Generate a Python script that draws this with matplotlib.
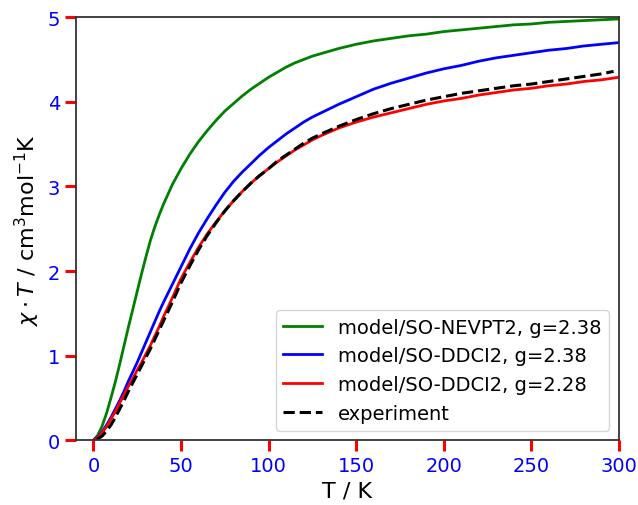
import matplotlib
matplotlib.use("Agg")
import matplotlib.pyplot as plt

T = [0, 2.5, 5, 7.5, 10, 12.5, 15, 17.5, 20, 22.5, 25, 27.5, 30, 32.5, 35, 37.5, 40, 45, 50, 55,
     60, 65, 70, 75, 80, 85, 90, 95, 100, 105, 110, 115, 120, 125, 130, 140, 150, 160, 170, 180,
     190, 200, 210, 220, 230, 240, 250, 260, 270, 280, 290, 300]
nevpt2_238 = [0, 0.06, 0.17, 0.32, 0.50, 0.69, 0.90, 1.12, 1.34, 1.55, 1.76, 1.97, 2.17, 2.36, 2.52, 2.66, 2.79, 3.02, 3.21, 3.38,
              3.53, 3.66, 3.78, 3.89, 3.98, 4.07, 4.15, 4.22, 4.29, 4.35, 4.41, 4.46, 4.50, 4.54, 4.57, 4.63, 4.68, 4.72, 4.75, 4.78,
              4.80, 4.83, 4.85, 4.87, 4.89, 4.91, 4.92, 4.94, 4.95, 4.96, 4.97, 4.98]
ddci2_238 = [0, 0.04, 0.10, 0.18, 0.27, 0.37, 0.47, 0.58, 0.70, 0.81, 0.92, 1.04, 1.16, 1.28, 1.40, 1.52, 1.63, 1.84, 2.05, 2.26,
             2.45, 2.62, 2.78, 2.93, 3.06, 3.17, 3.27, 3.37, 3.46, 3.54, 3.62, 3.69, 3.76, 3.82, 3.87, 3.97, 4.06, 4.15, 4.22, 4.28,
             4.34, 4.39, 4.43, 4.48, 4.52, 4.55, 4.58, 4.61, 4.63, 4.66, 4.68, 4.70]
ddci2_228 = [0, 0.03, 0.09, 0.16, 0.25, 0.34, 0.44, 0.54, 0.64, 0.73, 0.83, 0.92, 1.02, 1.12, 1.23, 1.34, 1.46, 1.68, 1.91, 2.10,
             2.28, 2.44, 2.58, 2.71, 2.83, 2.94, 3.04, 3.13, 3.21, 3.29, 3.36, 3.43, 3.49, 3.55, 3.60, 3.69, 3.76, 3.82, 3.87, 3.92,
             3.97, 4.01, 4.04, 4.08, 4.11, 4.14, 4.16, 4.19, 4.21, 4.24, 4.26, 4.29]

T_exp = [2, 5, 7.5, 10, 12.5, 15, 17.5, 20, 22.5, 25, 27.5, 30, 32.5, 35, 37.5, 40, 45, 50, 55,
         60, 65, 70, 75, 80, 85, 90, 95, 100, 105, 110, 115, 120, 125, 130, 140, 150, 160, 170, 180,
         190, 200, 210, 220, 230, 240, 250, 260, 270, 280, 290, 297]
experiment = [0.01, 0.05, 0.11, 0.18, 0.27, 0.37, 0.47, 0.58, 0.68, 0.78, 0.88, 0.98, 1.08, 1.19, 1.30, 1.41, 1.63, 1.86, 2.06,
              2.25, 2.42, 2.57, 2.71, 2.83, 2.94, 3.04, 3.13, 3.21, 3.30, 3.37, 3.44, 3.51, 3.57, 3.62, 3.71, 3.79, 3.86, 3.92, 3.97,
              4.02, 4.06, 4.10, 4.13, 4.16, 4.19, 4.21, 4.24, 4.27, 4.30, 4.33, 4.36]

labels = ["model/SO-NEVPT2, g=2.38", "model/SO-DDCI2, g=2.38", "model/SO-DDCI2, g=2.28", "experiment"]

fig = plt.figure(figsize=(6.38, 5.06), dpi=100)
ax = fig.add_axes([0.119, 0.128, 0.851, 0.836])

ax.plot(T, nevpt2_238, color="green", lw=2, label=labels[0])
ax.plot(T, ddci2_238, color="blue", lw=2, label=labels[1])
ax.plot(T, ddci2_228, color="red", lw=2, label=labels[2])
ax.plot(T_exp, experiment, color="black", lw=2.2, ls="--", label=labels[3])

ax.set_xlim(-10, 300)
ax.set_ylim(0, 5)
ax.set_xticks([0, 50, 100, 150, 200, 250, 300])
ax.set_yticks([0, 1, 2, 3, 4, 5])
ax.tick_params(axis="both", direction="out", length=8, width=2.2, color="red",
               labelcolor="blue", labelsize=14)
for s in ax.spines.values():
    s.set_color("#333333")
    s.set_linewidth(1.3)

ax.set_xlabel("T / K", fontsize=16)
ax.set_ylabel(r"$\chi\cdot T$ / cm$^3$mol$^{-1}$K", fontsize=16)

ax.legend(loc="lower right", fontsize=14, handlelength=2.0, framealpha=0.8)

fig.savefig("out.png", dpi=100)
